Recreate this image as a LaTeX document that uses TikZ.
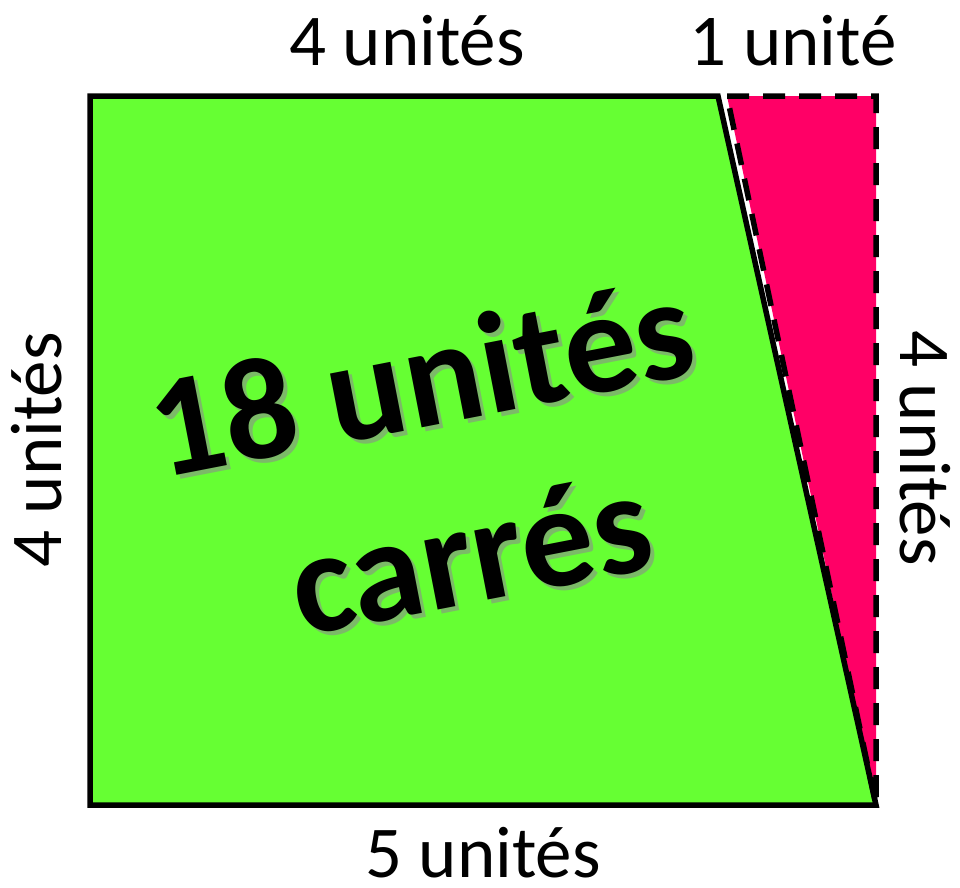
\documentclass[tikz,border=0pt]{standalone}
\usepackage{fontspec}
\setmainfont{Carlito}
\definecolor{shapegreen}{HTML}{66FF33}
\definecolor{shapepink}{HTML}{FF0066}
\begin{document}
\begin{tikzpicture}[x=1pt,y=-1pt,
  lbl/.style={inner sep=0pt,font=\fontsize{73}{80}\selectfont},
  bigtxt/.style={inner sep=0pt,align=center,rotate=11,font=\fontsize{145}{182}\selectfont\bfseries},
  outl/.style={line width=5.5pt,line join=miter}]
\useasboundingbox (0,0) rectangle (960,887);
% pink triangle
\coordinate (p1) at (727,96);
\coordinate (p2) at (876,96);
\coordinate (p3) at (876,805);
\fill[shapepink] (p1) -- (p2) -- (p3) -- cycle;
% green trapezoid
\coordinate (g1) at (90,96);
\coordinate (g2) at (718,96);
\coordinate (g3) at (876,805);
\coordinate (g4) at (90,805);
\fill[shapegreen] (g1) -- (g2) -- (g3) -- (g4) -- cycle;
\draw[outl,dash pattern=on 22pt off 14pt] (p1) -- (p2) -- (p3) -- cycle;
\draw[outl] (g1) -- (g2) -- (g3) -- (g4) -- cycle;
% labels
\node[lbl,anchor=base] (top4) at (407,65) {4 unités};
\node[lbl,anchor=base] (top1) at (793,65) {1 unité};
\node[lbl,anchor=base] (bot5) at (483,877) {5 unités};
\node[lbl,anchor=base,rotate=90] (left4) at (61,450) {4 unités};
\node[lbl,anchor=base,rotate=-90] (right4) at (900,448) {4 unités};
% big text with shadow
\node[bigtxt,text=black!45,opacity=0.6] (areashadow) at (442,470) {18 unités\\\hspace*{30pt}carrés};
\node[bigtxt] (area) at (438,466) {18 unités\\\hspace*{30pt}carrés};
\end{tikzpicture}
\end{document}
